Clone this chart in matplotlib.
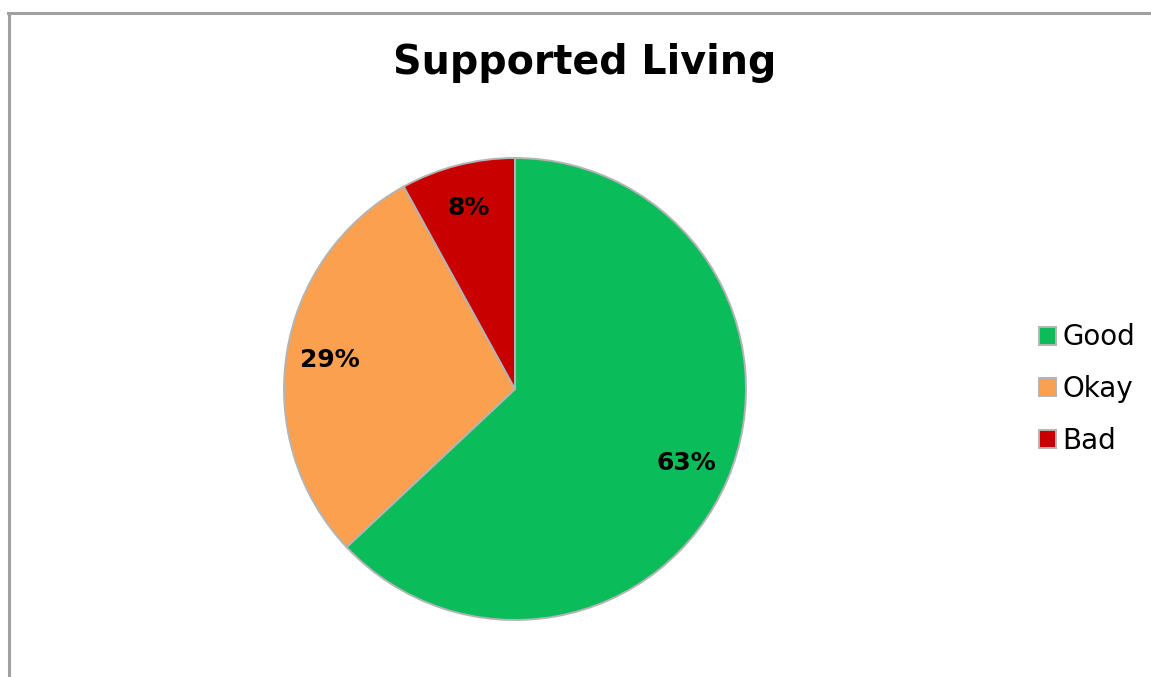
import matplotlib
matplotlib.use("Agg")
import matplotlib.pyplot as plt
from matplotlib.lines import Line2D

categories = ["Good", "Okay", "Bad"]
values = [63, 29, 8]
colors = ["#0bbd5a", "#fba04f", "#c80000"]
title = "Supported Living"

W, H = 1151, 677
fig = plt.figure(figsize=(W / 100, H / 100), dpi=100)
fig.patch.set_facecolor("white")

# chart area border (top and left visible)
fig.add_artist(Line2D([8 / W, 1], [1 - 12.5 / H, 1 - 12.5 / H], color="#a0a0a0", lw=2.2))
fig.add_artist(Line2D([8.5 / W, 8.5 / W], [0, 1 - 12.5 / H], color="#a0a0a0", lw=2.2))

cx, cy, r = 515, 389, 231
ax = fig.add_axes([(cx - r) / W, (H - cy - r) / H, 2 * r / W, 2 * r / H])
wedges, texts, autotexts = ax.pie(
    values, colors=colors, startangle=90, counterclock=False,
    autopct=lambda p: f"{p:.0f}%", pctdistance=0.81,
    wedgeprops=dict(edgecolor="#b4b4b4", linewidth=1.4),
    textprops=dict(fontsize=18, fontweight="bold", color="black", family="DejaVu Sans"),
)
ax.set_xlim(-1.0, 1.0)
ax.set_ylim(-1.0, 1.0)
ax.axis("off")

fig.text(585 / W, 1 - 63 / H, title, ha="center", va="center",
         fontsize=28.5, fontweight="bold", family="DejaVu Sans")

fig.legend(wedges, categories, loc="center left",
           bbox_to_anchor=(1039 / W, 1 - 389 / H), frameon=False,
           prop=dict(family="DejaVu Sans", size=20),
           handlelength=0.62, handleheight=0.62, handletextpad=0.22,
           labelspacing=0.85, borderpad=0, borderaxespad=0)

fig.savefig("out.png", dpi=100, facecolor="white")
